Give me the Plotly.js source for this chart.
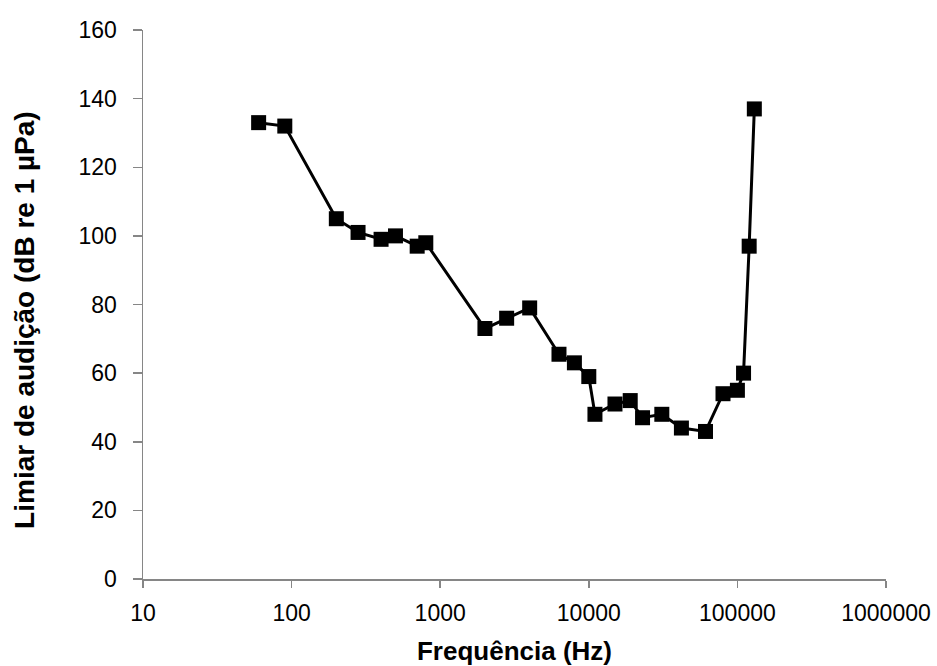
<!DOCTYPE html>
<html>
<head>
<meta charset="utf-8">
<script src="https://cdn.plot.ly/plotly-3.0.1.min.js"></script>
<style>html,body{margin:0;padding:0;background:#fff;}#chart{width:937px;height:666px;}</style>
</head>
<body>
<div id="chart"></div>
<script>
const frequencies = [60, 90, 200, 280, 400, 500, 700, 800, 2000, 2800, 4000, 6300, 8000, 10000, 11000, 15000, 19000, 23000, 31000, 42000, 61000, 80000, 100000, 110000, 120000, 130000];
const thresholds = [133, 132, 105, 101, 99, 100, 97, 98, 73, 76, 79, 65.5, 63, 59, 48, 51, 52, 47, 48, 44, 43, 54, 55, 60, 97, 137];
const xTickVals = [10, 100, 1000, 10000, 100000, 1000000];
const xTickText = ['10', '100', '1000', '10000', '100000', '1000000'];
const xTitle = 'Frequência (Hz)';
const yTitle = 'Limiar de audição (dB re 1 µPa)';

const trace = {
  x: frequencies, y: thresholds, type: 'scatter', mode: 'lines+markers',
  line: {color: '#000', width: 3},
  marker: {symbol: 'square', size: 15, color: '#000'},
  cliponaxis: false
};
const layout = {
  width: 937, height: 666,
  margin: {l: 143, r: 51, t: 30, b: 87},
  paper_bgcolor: '#fff', plot_bgcolor: '#fff',
  showlegend: false,
  font: {family: 'Liberation Sans, Arial, sans-serif', size: 23, color: '#000'},
  xaxis: {
    type: 'log', range: [1, 6], tickvals: xTickVals, ticktext: xTickText,
    showgrid: false, zeroline: false, showline: true, linecolor: '#868686', linewidth: 1.5,
    ticks: 'outside', ticklen: 7, tickcolor: '#868686', tickwidth: 1.5,
    tickfont: {size: 23, color: '#000'}, ticklabelstandoff: 6,
    title: {text: xTitle, font: {size: 26, color: '#000', weight: 'bold'}, standoff: 18}
  },
  yaxis: {
    range: [0, 160], dtick: 20, tick0: 0,
    showgrid: false, zeroline: false, showline: true, linecolor: '#868686', linewidth: 1.5,
    ticks: 'outside', ticklen: 9, tickcolor: '#868686', tickwidth: 1.5,
    tickfont: {size: 23, color: '#000'}, ticklabelstandoff: 11
  },
  annotations: [{
    text: yTitle, textangle: -90, showarrow: false,
    xref: 'paper', yref: 'paper', x: -0.1588, y: 0.472,
    xanchor: 'center', yanchor: 'middle',
    font: {size: 28, color: '#000', weight: 'bold'}
  }]
};
Plotly.newPlot('chart', [trace], layout, {displayModeBar: false, staticPlot: true});
</script>
</body>
</html>
